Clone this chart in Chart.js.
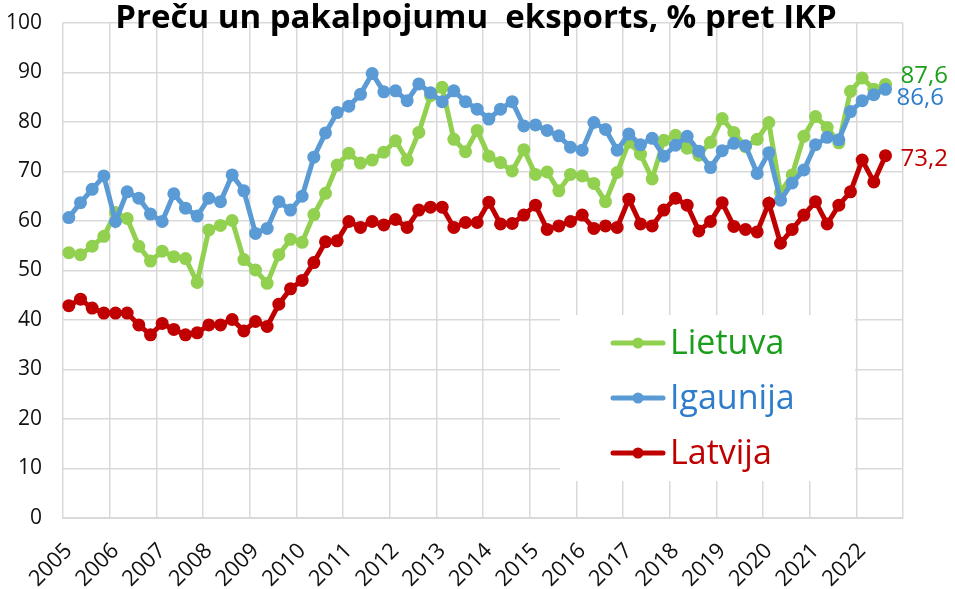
<!DOCTYPE html>
<html>
<head>
<meta charset="utf-8">
<script src="https://cdn.jsdelivr.net/npm/chart.js@4"></script>
<style>
  html, body { margin: 0; padding: 0; background: #fff; }
  #wrap { width: 955px; height: 589px; }
</style>
</head>
<body>
<div id="wrap"><canvas id="exportChart"></canvas></div>
<script>
// Preču un pakalpojumu eksports, % pret IKP (ceturkšņu dati, 2005 Q1 - 2022 Q3)
const years = ['2005', '2006', '2007', '2008', '2009', '2010', '2011', '2012', '2013',
               '2014', '2015', '2016', '2017', '2018', '2019', '2020', '2021', '2022'];

const lietuva = [53.6, 53.2, 54.9, 56.9, 61.7, 60.5, 54.9, 51.9, 53.9, 52.8, 52.4, 47.6,
                 58.2, 59.1, 60.1, 52.2, 50.1, 47.4, 53.2, 56.3, 55.7, 61.3, 65.6, 71.3,
                 73.7, 71.7, 72.3, 73.9, 76.2, 72.3, 77.9, 85.3, 87.0, 76.5, 74.0, 78.3,
                 73.1, 71.8, 70.1, 74.4, 69.4, 69.9, 66.1, 69.4, 69.1, 67.6, 63.9, 69.8,
                 75.9, 73.5, 68.5, 76.3, 77.3, 74.7, 73.3, 75.9, 80.7, 77.9, 75.0, 76.5,
                 79.9, 65.8, 69.3, 77.1, 81.1, 78.9, 75.8, 86.2, 88.9, 86.6, 87.6];

const igaunija = [60.7, 63.7, 66.4, 69.1, 59.9, 65.9, 64.6, 61.4, 59.9, 65.5, 62.6, 61.0,
                  64.6, 63.9, 69.3, 66.1, 57.5, 58.5, 63.9, 62.2, 65.0, 72.9, 77.8, 81.9,
                  83.2, 85.6, 89.8, 86.1, 86.3, 84.3, 87.7, 85.9, 84.1, 86.3, 84.1, 82.6,
                  80.6, 82.6, 84.1, 79.2, 79.4, 78.3, 77.2, 74.9, 74.3, 79.9, 78.5, 74.3,
                  77.6, 75.4, 76.7, 73.1, 75.3, 77.1, 74.1, 70.8, 74.2, 75.7, 75.2, 69.6,
                  73.8, 64.2, 67.7, 70.3, 75.4, 76.9, 76.4, 82.1, 84.3, 85.5, 86.6];

const latvija = [42.9, 44.2, 42.4, 41.4, 41.4, 41.4, 39.0, 37.0, 39.3, 38.1, 37.0, 37.4,
                 39.0, 39.0, 40.1, 37.8, 39.7, 38.7, 43.2, 46.3, 48.0, 51.6, 55.8, 56.0,
                 59.9, 58.7, 59.9, 59.2, 60.3, 58.7, 62.2, 62.8, 62.8, 58.7, 59.7, 59.7,
                 63.8, 59.4, 59.5, 61.2, 63.2, 58.3, 59.0, 59.9, 61.2, 58.5, 59.0, 58.7,
                 64.4, 59.4, 59.0, 62.2, 64.6, 63.2, 58.0, 59.9, 63.7, 58.9, 58.3, 57.8,
                 63.6, 55.5, 58.3, 61.2, 63.9, 59.4, 63.2, 65.9, 72.3, 67.9, 73.2];

// katram gadam 4 ceturkšņi, etiķete tikai pirmajam
const categories = [];
years.forEach(y => categories.push(y, '', '', ''));

const FONT = '"Open Sans", "Liberation Sans", sans-serif';
const GRID = '#d9d9d9';

// virsraksts
const titlePlugin = {
    id: 'titleText',
    afterDraw(chart) {
        const ctx = chart.ctx;
        ctx.save();
        ctx.font = 'bold 33px ' + FONT;
        ctx.fillStyle = '#000';
        ctx.textAlign = 'center';
        ctx.textBaseline = 'alphabetic';
        ctx.fillText('Preču un pakalpojumu  eksports, % pret IKP', 476, 28);
        ctx.restore();
    }
};

// pēdējās vērtības pie līniju galiem
const endLabels = {
    id: 'endLabels',
    afterDatasetsDraw(chart) {
        const ctx = chart.ctx;
        ctx.save();
        ctx.font = '24px ' + FONT;
        ctx.textAlign = 'left';
        ctx.textBaseline = 'middle';
        chart.data.datasets.forEach((ds, i) => {
            const pts = chart.getDatasetMeta(i).data;
            const last = pts[pts.length - 1];
            const val = ds.data[ds.data.length - 1];
            ctx.fillStyle = ds.textColor;
            ctx.fillText(val.toFixed(1).replace('.', ','), last.x + ds.labelDx, last.y + ds.labelDy);
        });
        ctx.restore();
    }
};

// leģenda diagrammas iekšpusē
const innerLegend = {
    id: 'innerLegend',
    afterDatasetsDraw(chart) {
        const ctx = chart.ctx;
        ctx.save();
        ctx.fillStyle = '#fff';
        ctx.fillRect(560, 315, 295, 166);
        ctx.font = '34px ' + FONT;
        ctx.textBaseline = 'middle';
        ctx.textAlign = 'left';
        chart.data.datasets.forEach((ds, i) => {
            const y = 343 + i * 55;
            ctx.strokeStyle = ds.borderColor;
            ctx.lineWidth = 5;
            ctx.lineCap = 'round';
            ctx.beginPath();
            ctx.moveTo(613, y);
            ctx.lineTo(663, y);
            ctx.stroke();
            ctx.fillStyle = ds.borderColor;
            ctx.beginPath();
            ctx.arc(638, y, 5.5, 0, Math.PI * 2);
            ctx.fill();
            ctx.fillStyle = ds.textColor;
            ctx.fillText(ds.label, 670, y + 1);
        });
        ctx.restore();
    }
};

function series(label, data, color, textColor, order, dx, dy) {
    return {
        label: label,
        data: data,
        borderColor: color,
        backgroundColor: color,
        borderWidth: 5,
        pointRadius: 6.5,
        pointHoverRadius: 6.5,
        pointBorderWidth: 0,
        tension: 0,
        order: order,
        textColor: textColor,
        labelDx: dx,
        labelDy: dy
    };
}

new Chart(document.getElementById('exportChart'), {
    type: 'line',
    data: {
        labels: categories,
        datasets: [
            series('Lietuva', lietuva, '#92d050', '#1b9e1b', 3, 15, -8),
            series('Igaunija', igaunija, '#5b9bd5', '#2e7dcc', 2, 11, 9),
            series('Latvija', latvija, '#c00000', '#c00000', 1, 15, 3)
        ]
    },
    options: {
        responsive: true,
        maintainAspectRatio: false,
        animation: false,
        layout: { padding: { left: 0, right: 52, top: 23, bottom: 0 } },
        plugins: {
            legend: { display: false },
            tooltip: { enabled: false }
        },
        scales: {
            x: {
                offset: true,
                afterFit: s => { s.height = 71; },
                grid: {
                    offset: true,
                    drawTicks: false,
                    lineWidth: 1.5,
                    color: c => (c.index === undefined || c.index % 4 === 0) ? GRID : 'rgba(0,0,0,0)'
                },
                border: { display: true, color: GRID, width: 2 },
                ticks: {
                    autoSkip: false,
                    maxRotation: 45,
                    minRotation: 45,
                    padding: 20,
                    color: '#111',
                    font: { family: FONT, size: 22 }
                }
            },
            y: {
                min: 0,
                max: 100,
                afterFit: s => { s.width = 63; s.paddingTop = 12; },
                grid: { drawTicks: false, color: GRID, lineWidth: 1.5 },
                border: { display: false },
                ticks: {
                    stepSize: 10,
                    padding: 21,
                    color: '#111',
                    font: { family: FONT, size: 21 }
                }
            }
        }
    },
    plugins: [endLabels, innerLegend, titlePlugin]
});
</script>
</body>
</html>
